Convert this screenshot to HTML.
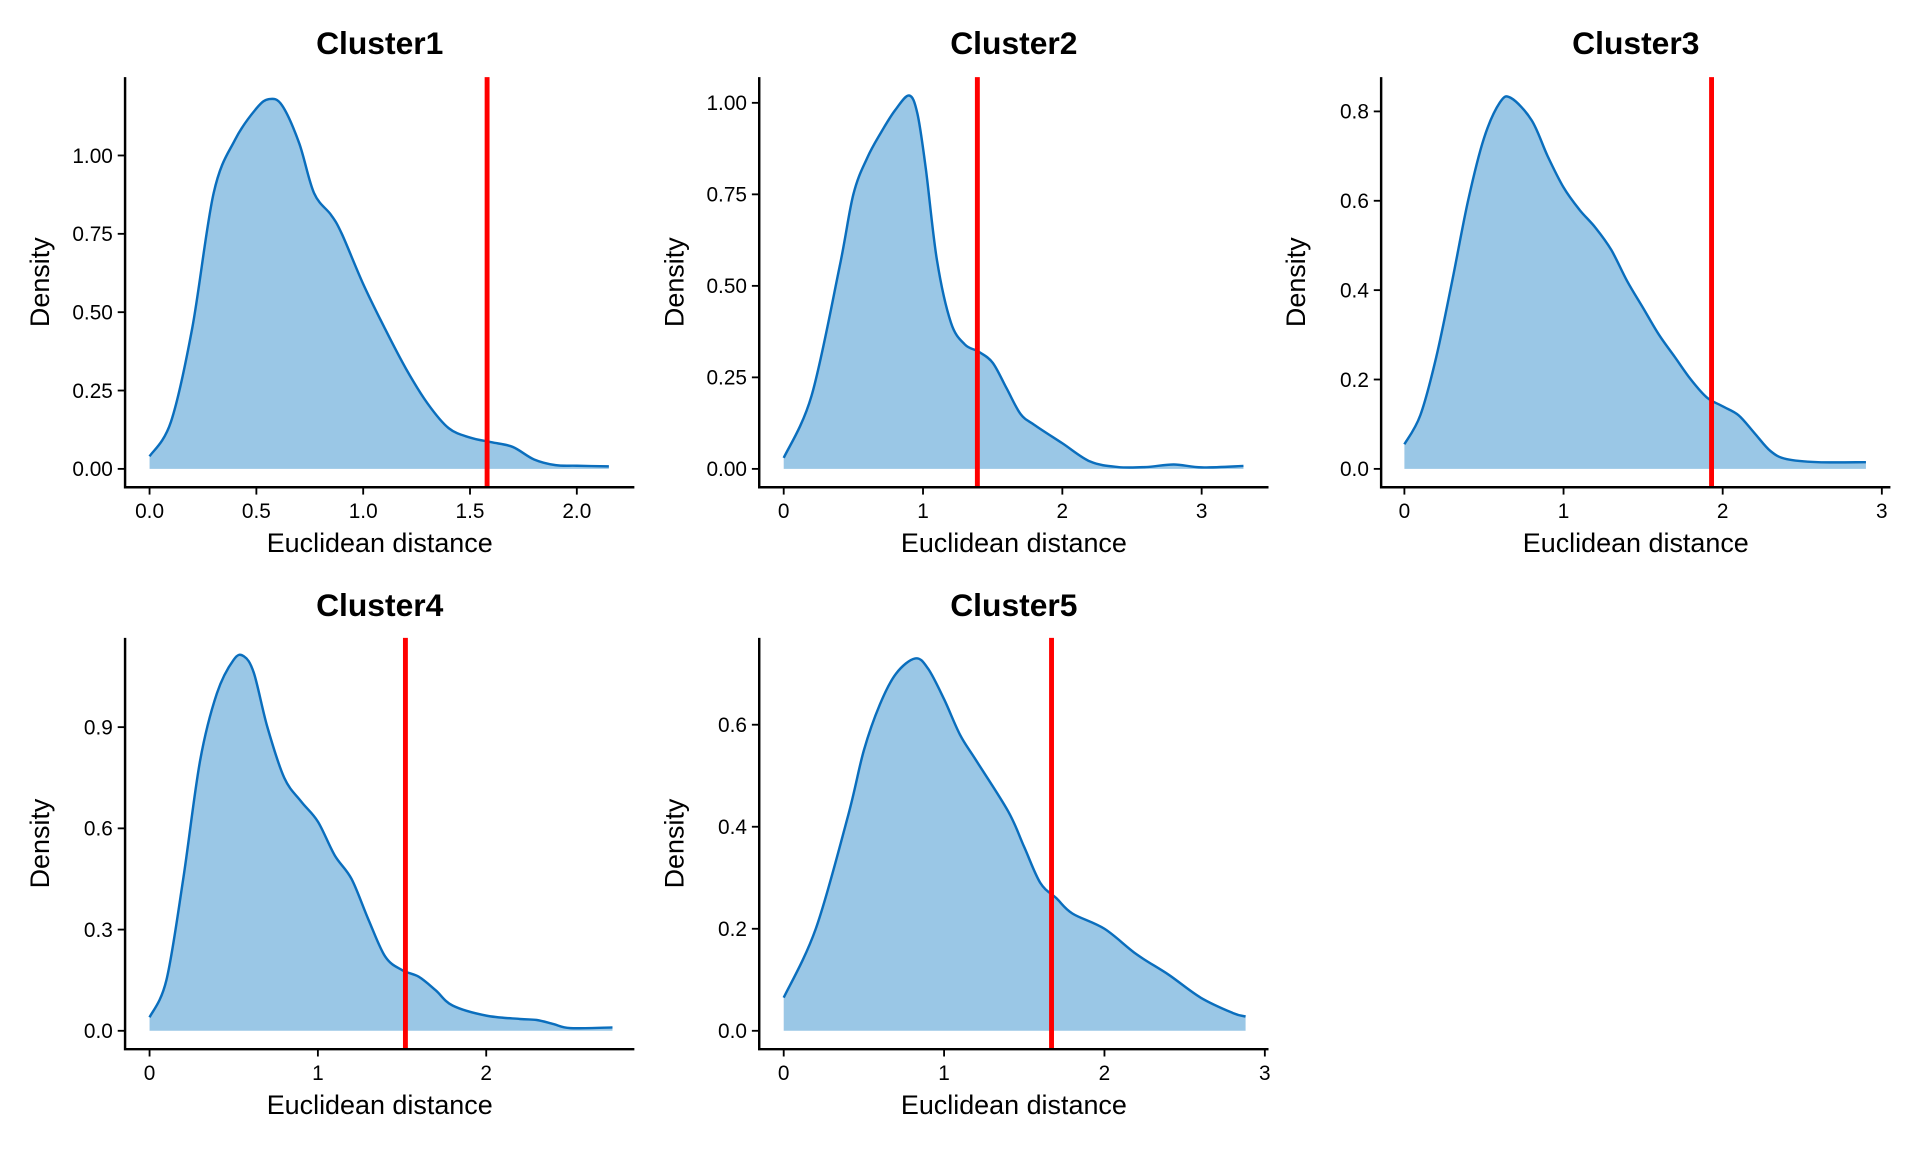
<!DOCTYPE html>
<html><head><meta charset="utf-8"><style>
html,body{margin:0;padding:0;background:#fff;}
svg{display:block;font-family:"Liberation Sans",Arial,sans-serif;}
</style></head><body>
<svg id="chart" width="1920" height="1152" viewBox="0 0 1568 941" xmlns="http://www.w3.org/2000/svg"></svg>
<script>
const titles = ["Cluster1","Cluster2","Cluster3","Cluster4","Cluster5"];
const thresholds = [1.58, 1.39, 1.93, 1.52, 1.67];
const xTicks1 = [0,0.5,1.0,1.5,2.0];
const xTickLabels1 = ["0.0","0.5","1.0","1.5","2.0"];
const yTicks1 = [0,0.25,0.5,0.75,1.0];
const yTickLabels1 = ["0.00","0.25","0.50","0.75","1.00"];
const xTicks2 = [0,1,2,3];
const yTicks2 = [0,0.25,0.5,0.75,1.0];
const yTickLabels2 = ["0.00","0.25","0.50","0.75","1.00"];
const xTicks3 = [0,1,2,3];
const yTicks3 = [0,0.2,0.4,0.6,0.8];
const yTickLabels3 = ["0.0","0.2","0.4","0.6","0.8"];
const xTicks4 = [0,1,2];
const yTicks4 = [0,0.3,0.6,0.9];
const yTickLabels4 = ["0.0","0.3","0.6","0.9"];
const xTicks5 = [0,1,2,3];
const yTicks5 = [0,0.2,0.4,0.6];
const yTickLabels5 = ["0.0","0.2","0.4","0.6"];

const c1x = [0,0.1,0.2,0.3,0.4,0.5,0.56,0.62,0.7,0.77,0.85,0.9,1.0,1.1,1.2,1.3,1.4,1.5,1.6,1.7,1.8,1.9,2.0,2.15];
const c1y = [0.04,0.15,0.45,0.88,1.05,1.15,1.18,1.16,1.04,0.88,0.81,0.75,0.59,0.45,0.32,0.21,0.13,0.10,0.085,0.07,0.03,0.012,0.01,0.008];
const c2x = [0,0.2,0.4,0.5,0.6,0.7,0.8,0.9,0.96,1.02,1.1,1.2,1.3,1.4,1.5,1.6,1.7,1.8,2.0,2.2,2.4,2.6,2.8,3.0,3.3];
const c2y = [0.03,0.20,0.55,0.75,0.85,0.92,0.98,1.02,0.97,0.82,0.57,0.40,0.34,0.32,0.29,0.22,0.15,0.12,0.07,0.02,0.005,0.005,0.012,0.004,0.008];
const c3x = [0,0.1,0.2,0.3,0.4,0.5,0.6,0.67,0.8,0.9,1.0,1.1,1.2,1.3,1.4,1.5,1.6,1.7,1.8,1.9,2.0,2.1,2.2,2.3,2.4,2.6,2.9];
const c3y = [0.055,0.12,0.25,0.42,0.60,0.74,0.82,0.83,0.78,0.70,0.63,0.58,0.54,0.49,0.42,0.36,0.30,0.25,0.20,0.16,0.14,0.12,0.08,0.04,0.022,0.015,0.015];
const c4x = [0,0.1,0.2,0.3,0.4,0.5,0.56,0.62,0.7,0.8,0.9,1.0,1.1,1.2,1.3,1.4,1.5,1.6,1.7,1.8,2.0,2.2,2.3,2.4,2.5,2.75];
const c4y = [0.04,0.15,0.45,0.80,1.00,1.10,1.11,1.06,0.90,0.75,0.68,0.62,0.52,0.45,0.33,0.22,0.18,0.16,0.12,0.075,0.045,0.035,0.032,0.02,0.008,0.01];
const c5x = [0,0.2,0.4,0.5,0.6,0.7,0.82,0.9,1.0,1.1,1.2,1.4,1.5,1.6,1.7,1.8,2.0,2.2,2.4,2.6,2.8,2.88];
const c5y = [0.065,0.20,0.42,0.55,0.64,0.70,0.73,0.71,0.65,0.58,0.53,0.43,0.36,0.29,0.26,0.23,0.20,0.15,0.11,0.065,0.035,0.028];

const panels = [
  {ax:102, axEnd:518, top:63, bottom:398, x0px:122, xPerUnit:174.5, y0px:383, yPerUnit:256, cx:310, titleY:44, xlabY:451,
   xs:c1x, ys:c1y, xt:xTicks1, xtl:xTickLabels1, yt:yTicks1, ytl:yTickLabels1},
  {ax:620, axEnd:1036, top:63, bottom:398, x0px:640, xPerUnit:113.8, y0px:383, yPerUnit:299, cx:828, titleY:44, xlabY:451,
   xs:c2x, ys:c2y, xt:xTicks2, xtl:xTicks2.map(String), yt:yTicks2, ytl:yTickLabels2},
  {ax:1128, axEnd:1544, top:63, bottom:398, x0px:1147, xPerUnit:130, y0px:383, yPerUnit:365, cx:1336, titleY:44, xlabY:451,
   xs:c3x, ys:c3y, xt:xTicks3, xtl:xTicks3.map(String), yt:yTicks3, ytl:yTickLabels3},
  {ax:102, axEnd:518, top:521, bottom:857, x0px:122, xPerUnit:137.5, y0px:842, yPerUnit:275.6, cx:310, titleY:503, xlabY:910,
   xs:c4x, ys:c4y, xt:xTicks4, xtl:xTicks4.map(String), yt:yTicks4, ytl:yTickLabels4},
  {ax:620, axEnd:1036, top:521, bottom:857, x0px:640, xPerUnit:131, y0px:842, yPerUnit:416.7, cx:828, titleY:503, xlabY:910,
   xs:c5x, ys:c5y, xt:xTicks5, xtl:xTicks5.map(String), yt:yTicks5, ytl:yTickLabels5}
];

const NS = "http://www.w3.org/2000/svg";
const svg = document.getElementById("chart");
function mk(tag, attrs, parent){
  const e = document.createElementNS(NS, tag);
  for (const k in attrs) e.setAttribute(k, attrs[k]);
  parent.appendChild(e);
  return e;
}
function smoothPath(pts){
  let d = "M" + pts[0][0].toFixed(2) + "," + pts[0][1].toFixed(2);
  for (let i=0;i<pts.length-1;i++){
    const p0 = pts[i-1]||pts[i], p1 = pts[i], p2 = pts[i+1], p3 = pts[i+2]||pts[i+1];
    const c1 = [p1[0]+(p2[0]-p0[0])/6, p1[1]+(p2[1]-p0[1])/6];
    const c2 = [p2[0]-(p3[0]-p1[0])/6, p2[1]-(p3[1]-p1[1])/6];
    d += " C"+c1[0].toFixed(2)+","+c1[1].toFixed(2)+" "+c2[0].toFixed(2)+","+c2[1].toFixed(2)+" "+p2[0].toFixed(2)+","+p2[1].toFixed(2);
  }
  return d;
}

panels.forEach((p, i) => {
  const xs = v => p.x0px + v*p.xPerUnit;
  const ys = v => p.y0px - v*p.yPerUnit;
  const g = mk("g", {}, svg);
  
  

  const pts = p.xs.map((x, j) => [xs(x), ys(p.ys[j])]);
  const line = smoothPath(pts);
  const area = mk("path", {d: line + " L" + xs(p.xs[p.xs.length-1]) + "," + ys(0) + " L" + xs(p.xs[0]) + "," + ys(0) + " Z", fill:"#9AC7E6", stroke:"none"}, g);
  
  
  const curve = mk("path", {d: line, fill:"none", stroke:"#0A6EBD", "stroke-width":2}, g);
  
  

  const red = mk("line", {x1: xs(thresholds[i]), x2: xs(thresholds[i]), y1: p.top, y2: p.bottom, stroke:"#FF0000", "stroke-width":4}, g);
  
  

  const axes = mk("path", {d:"M"+p.ax+","+p.top+" L"+p.ax+","+p.bottom+" L"+p.axEnd+","+p.bottom, fill:"none", stroke:"#000", "stroke-width":2}, g);
  
  

  p.xt.forEach((t, j) => {
    const tk = mk("line", {x1:xs(t), x2:xs(t), y1:p.bottom, y2:p.bottom+6, stroke:"#000", "stroke-width":1.5}, g);
    
    
    const tl = mk("text", {x:xs(t), y:p.bottom+25, "text-anchor":"middle", "font-size":17, fill:"#000"}, g);
    tl.textContent = p.xtl[j];
    
    
  });
  p.yt.forEach((t, j) => {
    const tk = mk("line", {x1:p.ax-6, x2:p.ax, y1:ys(t), y2:ys(t), stroke:"#000", "stroke-width":1.5}, g);
    
    
    const tl = mk("text", {x:p.ax-10, y:ys(t)+6, "text-anchor":"end", "font-size":17, fill:"#000"}, g);
    tl.textContent = p.ytl[j];
    
    
  });

  const title = mk("text", {x:p.cx, y:p.titleY, "text-anchor":"middle", "font-size":26, "font-weight":"bold", fill:"#000"}, g);
  title.textContent = titles[i];
  
  

  const xl = mk("text", {x:p.cx, y:p.xlabY, "text-anchor":"middle", "font-size":22, fill:"#000"}, g);
  xl.textContent = "Euclidean distance";
  
  

  const cy = (p.top + p.bottom)/2;
  const yl = mk("text", {x:0, y:0, "text-anchor":"middle", "font-size":22, fill:"#000", transform:"translate("+(p.ax-62)+","+cy+") rotate(-90)"}, g);
  yl.textContent = "Density";
  
  
});
</script>
</body></html>
